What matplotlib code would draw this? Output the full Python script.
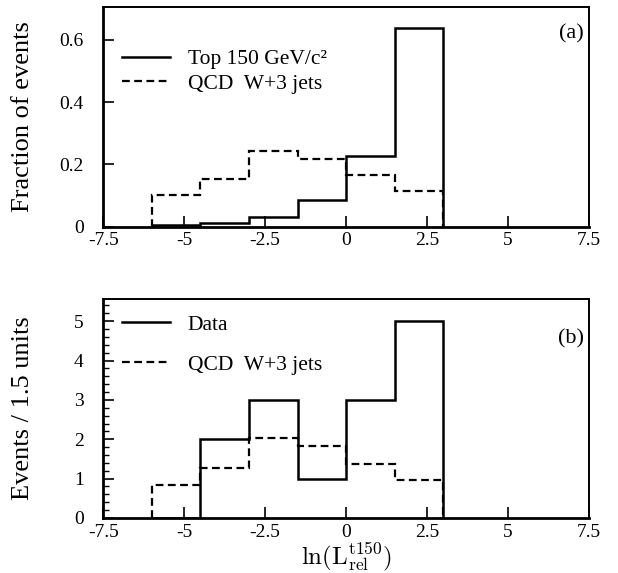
import numpy as np
import matplotlib.pyplot as plt
from matplotlib.ticker import MultipleLocator

plt.rcParams['font.family'] = ['Liberation Serif', 'DejaVu Serif']
plt.rcParams['mathtext.fontset'] = 'stix'
plt.rcParams['axes.unicode_minus'] = False

# bin edges in ln(L_rel) (1.5 units wide)
edges = np.array([-6.0, -4.5, -3.0, -1.5, 0.0, 1.5, 3.0])

# (a) normalised shapes
top150_frac = [0.006, 0.014, 0.032, 0.086, 0.226, 0.638]
qcd_frac_a = [0.103, 0.154, 0.242, 0.217, 0.165, 0.116]

# (b) observed events and QCD W+3 jets expectation
data_events = [0, 2, 3, 1, 3, 5]
qcd_events = [0.84, 1.27, 2.02, 1.83, 1.36, 0.97]

xticks = [-7.5, -5, -2.5, 0, 2.5, 5, 7.5]
xticklabels = ['-7.5', '-5', '-2.5', '0', '2.5', '5', '7.5']

fig = plt.figure(figsize=(6.18, 5.73), dpi=100)
ax1 = fig.add_axes([0.167, 0.604, 0.786, 0.384])
ax2 = fig.add_axes([0.167, 0.096, 0.786, 0.382])

dash = (0, (3.5, 2.0))
leg_kw = dict(loc='upper left', frameon=False, fontsize=15.5, handlelength=2.25,
              handletextpad=0.8, borderaxespad=0.2)

ax1.stairs(top150_frac, edges, color='black', lw=1.8, label='Top 150 GeV/c²')
ax1.stairs(qcd_frac_a, edges, color='black', lw=1.6, linestyle=dash,
           label='QCD  W+3 jets')
ax1.set_ylim(0, 0.705)
ax1.set_yticks([0, 0.2, 0.4, 0.6])
ax1.set_yticklabels(['0', '0.2', '0.4', '0.6'])
ax1.set_ylabel('Fraction of events', fontsize=19)
ax1.text(0.99, 0.877, '(a)', transform=ax1.transAxes, ha='right', va='center',
         fontsize=16)
ax1.legend(labelspacing=0.2, bbox_to_anchor=(0.012, 0.866), **leg_kw)

ax2.stairs(data_events, edges, color='black', lw=1.8, label='Data')
ax2.stairs(qcd_events, edges, color='black', lw=1.6, linestyle=dash,
           label='QCD  W+3 jets')
ax2.set_ylim(0, 5.56)
ax2.set_yticks([0, 1, 2, 3, 4, 5])
ax2.yaxis.set_minor_locator(MultipleLocator(0.2))
ax2.set_ylabel('Events / 1.5 units', fontsize=19)
ax2.set_xlabel(r'$\ln(\mathrm{L}_{\mathrm{rel}}^{\mathrm{t150}})$', fontsize=18,
               labelpad=0, math_fontfamily='cm')
ax2.text(0.99, 0.817, '(b)', transform=ax2.transAxes, ha='right', va='center',
         fontsize=16)
ax2.legend(labelspacing=0.92, bbox_to_anchor=(0.012, 0.988), **leg_kw)

for ax in (ax1, ax2):
    ax.set_xlim(-7.5, 7.5)
    ax.set_xticks(xticks)
    ax.set_xticklabels(xticklabels)
    ax.tick_params(which='major', direction='in', length=8, width=1.2,
                   labelsize=14, pad=4)
    ax.tick_params(which='minor', direction='in', length=4.5, width=1.0)
    ax.tick_params(axis='y', pad=14)
    ax.yaxis.set_label_coords(-0.142, 0.5)
    for side in ax.spines.values():
        side.set_linewidth(1.4)
    ax.spines['left'].set_linewidth(2.0)
    ax.spines['bottom'].set_linewidth(2.0)

fig.savefig('out.png', dpi=100)
